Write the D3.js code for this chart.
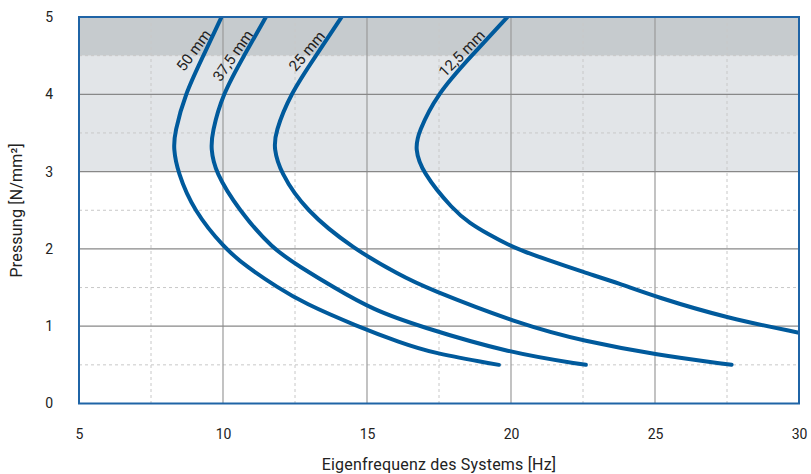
<!DOCTYPE html>
<html>
<head>
<meta charset="utf-8">
<script src="https://cdn.jsdelivr.net/npm/d3@7"></script>
<style>
  html, body { margin: 0; padding: 0; background: #fff; }
  svg { display: block; font-family: Roboto, "DejaVu Sans", sans-serif; }
</style>
</head>
<body>
<svg id="chart" width="811" height="474"></svg>
<script>
// Eigenfrequenz [Hz] vs. Pressung [N/mm²] for four pad thicknesses
const xTicks = [5, 10, 15, 20, 25, 30];
const yTicks = [0, 1, 2, 3, 4, 5];
const xMinor = [7.5, 12.5, 17.5, 22.5, 27.5];
const yMinor = [0.5, 1.5, 2.5, 3.5, 4.5];
const bands = [[3, 4.5], [4.5, 5]];

// [Hz, N/mm²] points, ordered from the top edge downwards
const curve50 = [[9.95,5],[9.32,4.5],[8.68,4.0],[8.32,3.5],[8.28,3.3],[8.42,3.0],[8.97,2.5],[10.07,2.0],[10.82,1.77],[11.9,1.5],[12.8,1.3],[14.65,1.0],[16.15,0.79],[17.3,0.65],[19.58,0.5]];
const curve375 = [[11.49,5],[10.73,4.5],[9.98,4.0],[9.62,3.5],[9.58,3.3],[9.72,3.0],[10.55,2.5],[11.72,2.0],[12.67,1.77],[13.85,1.5],[15.22,1.21],[16.8,1.0],[19.97,0.65],[22.6,0.5]];
const curve25 = [[14.12,5],[13.23,4.5],[12.33,4.0],[11.81,3.5],[11.77,3.3],[11.98,3.0],[12.85,2.5],[14.53,2.0],[16.15,1.66],[17.0,1.5],[20.5,1.0],[22.51,0.81],[25.06,0.627],[27.66,0.5]];
const curve125 = [[19.88,5],[18.63,4.5],[17.42,4.0],[16.78,3.5],[16.67,3.3],[16.9,3.0],[18.0,2.5],[18.58,2.33],[19.16,2.2],[20.05,2.02],[21.24,1.86],[22.51,1.70],[23.78,1.55],[25.02,1.38],[27.55,1.10],[30,0.916]];

const seriesNames = ["50 mm", "37,5 mm", "25 mm", "12,5 mm"];
const seriesData = [curve50, curve375, curve25, curve125];

const svg = d3.select("#chart");
const x = d3.scaleLinear().domain([5, 30]).range([79, 799]);
const y = d3.scaleLinear().domain([0, 5]).range([403.5, 17]);

const [x0, x1] = x.range();
const [y0, y1] = y.range();

// shaded pressure bands
svg.append("g").selectAll("rect").data(bands).join("rect")
  .attr("x", x0).attr("width", x1 - x0)
  .attr("y", d => y(d[1])).attr("height", d => y(d[0]) - y(d[1]))
  .attr("fill", (d, i) => i === 0 ? "#e2e5e8" : "#c6cbce");

// minor grid
const grid = svg.append("g");
grid.selectAll(".vminor").data(xMinor).join("line")
  .attr("x1", d => x(d)).attr("x2", d => x(d)).attr("y1", y1).attr("y2", y0)
  .attr("stroke", "#c8c8c8").attr("stroke-dasharray", "3,3").attr("stroke-width", 1);
grid.selectAll(".hminor").data(yMinor).join("line")
  .attr("y1", d => y(d)).attr("y2", d => y(d)).attr("x1", x0).attr("x2", x1)
  .attr("stroke", "#c8c8c8").attr("stroke-dasharray", "3,3").attr("stroke-width", 1);

// major grid
grid.selectAll(".vmajor").data(xTicks.slice(1, -1)).join("line")
  .attr("x1", d => x(d)).attr("x2", d => x(d)).attr("y1", y1).attr("y2", y0)
  .attr("stroke", "#9a9a9a").attr("stroke-width", 1.2);
grid.selectAll(".hmajor").data(yTicks.slice(1, -1)).join("line")
  .attr("y1", d => y(d)).attr("y2", d => y(d)).attr("x1", x0).attr("x2", x1)
  .attr("stroke", "#888").attr("stroke-width", 1.2);

// curves, smoothed through the read-off points
svg.append("clipPath").attr("id", "plotClip").append("rect")
  .attr("x", x0).attr("y", y1).attr("width", x1 - x0).attr("height", y0 - y1);

const line = d3.line()
  .x(d => x(d[0])).y(d => y(d[1]))
  .curve(d3.curveBasis);

svg.append("g").attr("clip-path", "url(#plotClip)")
  .selectAll("path").data(seriesData).join("path")
  .attr("d", line)
  .attr("fill", "none")
  .attr("stroke", "#005a9c")
  .attr("stroke-width", 4)
  .attr("stroke-linecap", "round")
  .attr("stroke-linejoin", "round");

// frame
svg.append("rect")
  .attr("x", x0).attr("y", y1).attr("width", x1 - x0).attr("height", y0 - y1)
  .attr("fill", "none").attr("stroke", "#1f64a6").attr("stroke-width", 2);

// curve labels, set along each curve's upper branch
const labelPos = [
  { p: [8.98, 4.57], a: -54 },
  { p: [10.34, 4.5], a: -55 },
  { p: [12.91, 4.56], a: -50 },
  { p: [18.29, 4.53], a: -45.5 }
];
svg.append("g").selectAll("text").data(seriesNames).join("text")
  .attr("transform", (d, i) => `translate(${x(labelPos[i].p[0])},${y(labelPos[i].p[1])}) rotate(${labelPos[i].a})`)
  .attr("text-anchor", "middle")
  .attr("dy", "0.35em")
  .attr("font-size", 15)
  .attr("fill", "#222")
  .text(d => d);

// axes
const xAxis = d3.axisBottom(x).tickValues(xTicks).tickFormat(d3.format("d")).tickSize(0).tickPadding(26);
svg.append("g").attr("transform", `translate(0,${y0})`).call(xAxis)
  .call(g => g.select(".domain").remove())
  .call(g => g.selectAll("text").attr("font-size", 14).attr("font-family", "Roboto, sans-serif").attr("fill", "#222"));

const yAxis = d3.axisLeft(y).tickValues(yTicks).tickFormat(d3.format("d")).tickSize(0).tickPadding(26);
svg.append("g").attr("transform", `translate(${x0},0)`).call(yAxis)
  .call(g => g.select(".domain").remove())
  .call(g => g.selectAll("text").attr("font-size", 14).attr("font-family", "Roboto, sans-serif").attr("fill", "#222"));

// axis titles
svg.append("text")
  .attr("x", (x0 + x1) / 2).attr("y", 464).attr("dy", "0.35em")
  .attr("text-anchor", "middle").attr("font-size", 16).attr("letter-spacing", 0.2).attr("fill", "#222")
  .text("Eigenfrequenz des Systems [Hz]");

svg.append("text")
  .attr("transform", `translate(16,${(y0 + y1) / 2}) rotate(-90)`)
  .attr("dy", "0.35em")
  .attr("text-anchor", "middle").attr("font-size", 16).attr("letter-spacing", 0.2).attr("fill", "#222")
  .text("Pressung [N/mm²]");
</script>
</body>
</html>
